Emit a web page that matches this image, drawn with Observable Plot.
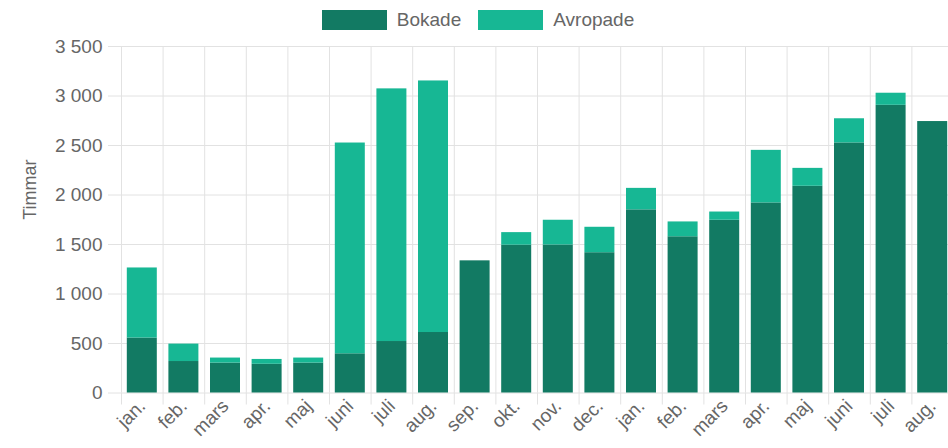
<!DOCTYPE html>
<html><head><meta charset="utf-8">
<script src="https://cdn.jsdelivr.net/npm/d3@7"></script>
<script src="https://cdn.jsdelivr.net/npm/@observablehq/plot@0.6"></script>
<style>
html,body{margin:0;padding:0;background:#fff;overflow:hidden;width:948px;height:448px;}
body{font-family:"Liberation Sans",Arial,sans-serif;}
#legend{width:956px;height:36px;display:flex;justify-content:center;align-items:flex-start;}
.item{display:flex;align-items:center;margin-top:9px;font-size:19px;color:#666;}
.box{width:65px;height:20px;margin-right:10px;}
.item + .item{margin-left:17px;}
svg{max-width:none !important;}
</style></head>
<body>
<div id="legend"></div>
<div id="chart"></div>
<script>
const months = ["jan.","feb.","mars","apr.","maj","juni","juli","aug.","sep.","okt.","nov.","dec.","jan.","feb.","mars","apr.","maj","juni","juli","aug."];
const bokade   = [555, 318, 302, 290, 302, 396, 520, 611, 1335, 1493, 1495, 1417, 1850, 1578, 1745, 1920, 2088, 2526, 2906, 2742];
const avropade = [708, 176,  51,  49,  51, 2129, 2552, 2541,   0,  127,  250,  257,  217,  150,   83,  531,  181,  244,  122,    0];
const seriesNames = ["Bokade", "Avropade"];
const seriesColors = ["#127a63", "#17b794"];
const yTicks = [0, 500, 1000, 1500, 2000, 2500, 3000, 3500];
const yLabel = "Timmar";

const legend = document.getElementById("legend");
seriesNames.forEach((n, k) => {
  const it = document.createElement("div"); it.className = "item";
  const b = document.createElement("div"); b.className = "box"; b.style.background = seriesColors[k];
  const t = document.createElement("span"); t.textContent = n;
  it.appendChild(b); it.appendChild(t); legend.appendChild(it);
});

const rows = [];
months.forEach((m, i) => {
  rows.push({i, series: "Bokade", y1: 0, y2: bokade[i]});
  rows.push({i, series: "Avropade", y1: bokade[i], y2: bokade[i] + avropade[i]});
});
const boundaries = d3.range(0, months.length + 1);
const centers = months.map((m, i) => i + 0.5);
const fmt = d => d3.format(",")(d).replace(/,/g, " ");
const grid = "#e2e2e2";

const chart = Plot.plot({
  width: 953,
  height: 412,
  marginLeft: 121,
  marginRight: 0,
  marginTop: 10,
  marginBottom: 55.5,
  style: {fontFamily: "'Liberation Sans', Arial, sans-serif", fontSize: "19px", overflow: "visible"},
  x: {type: "linear", domain: [0, months.length]},
  y: {domain: [0, 3500]},
  color: {domain: seriesNames, range: seriesColors},
  marks: [
    Plot.ruleY(yTicks, {stroke: grid, strokeWidth: 1}),
    Plot.ruleX(boundaries, {y1: 0, y2: 3500, stroke: grid, strokeWidth: 1}),
    Plot.axisX({ticks: boundaries, tickSize: 12, tickFormat: () => "", stroke: grid, label: null}),
    Plot.axisY({ticks: yTicks, tickSize: 13, tickPadding: 6, tickFormat: fmt, stroke: grid, fill: "#666", label: null, fontSize: 19}),
    Plot.rectY(rows, {x1: d => d.i, x2: d => d.i + 1, y1: "y1", y2: "y2", fill: "series", insetLeft: 5.8, insetRight: 5.8}),
    Plot.axisX({ticks: centers, tickSize: 0, tickPadding: 10, tickRotate: -45, tickFormat: d => months[Math.floor(d)], fill: "#666", label: null, fontSize: 19}),
    Plot.text([yLabel], {frameAnchor: "left", dx: -91, rotate: -90, fontSize: 18, fill: "#666"})
  ]
});
document.getElementById("chart").appendChild(chart);
</script>
</body></html>
